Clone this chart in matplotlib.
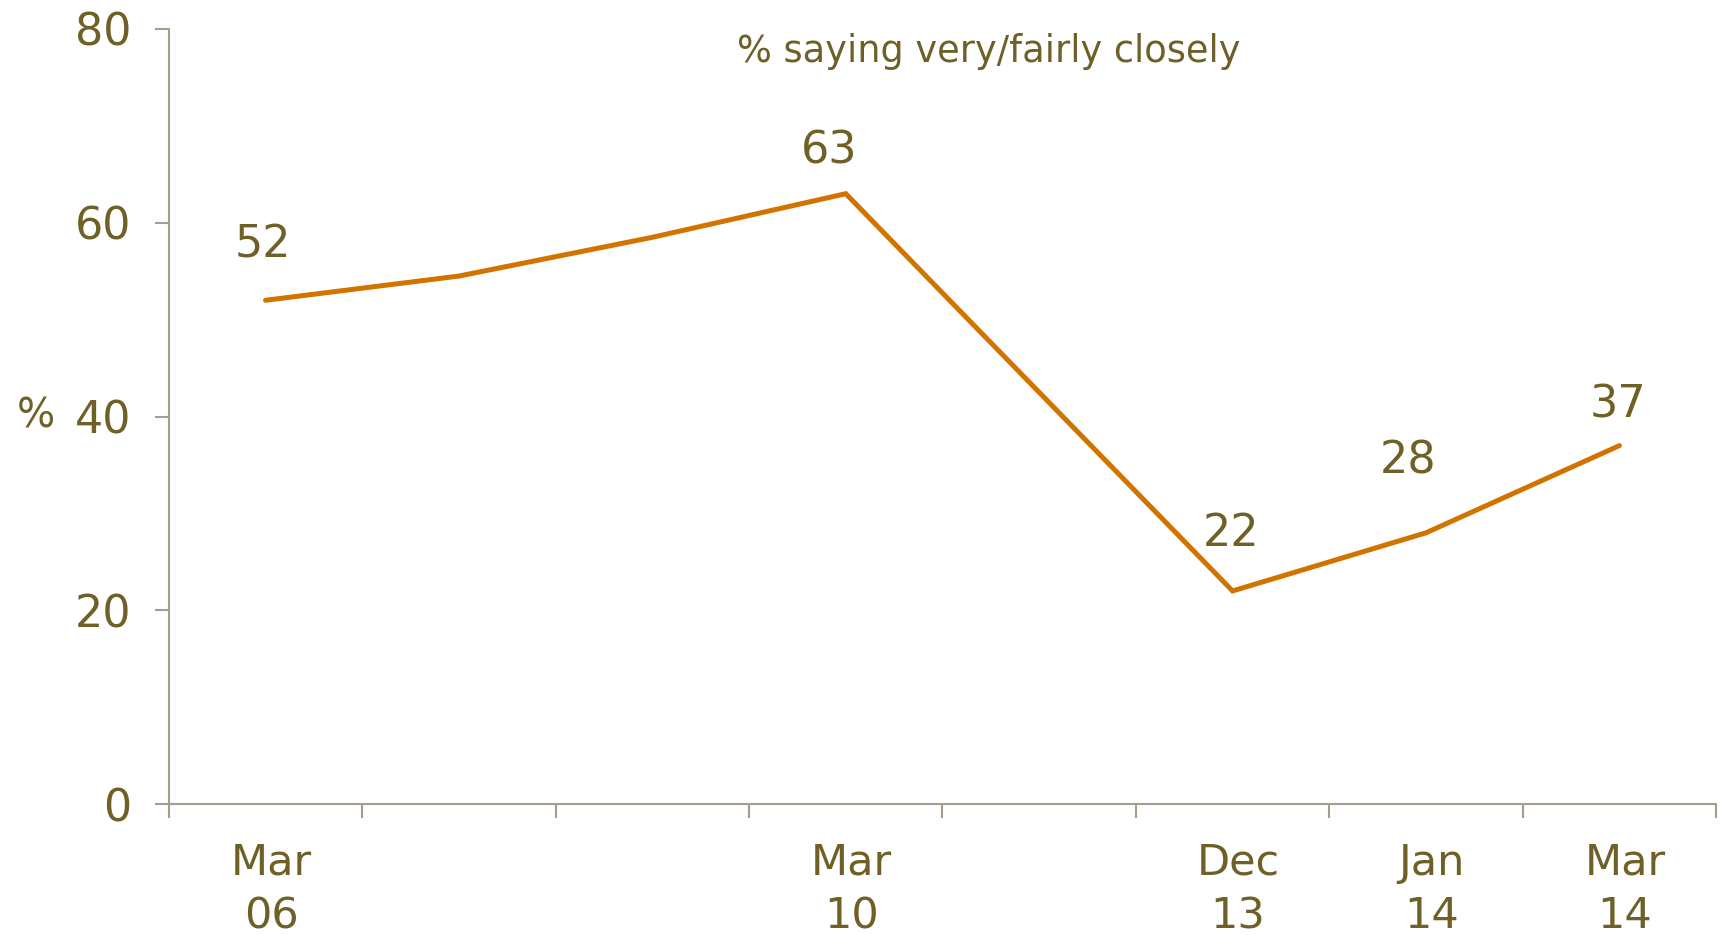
import numpy as np
import matplotlib
matplotlib.use("Agg")
import matplotlib.pyplot as plt
import matplotlib.transforms as mtransforms

# survey waves (slot 4 has no reading, line runs straight across it)
slots = [0, 1, 2, 3, 5, 6, 7]
values = [52, 54.5, 58.5, 63, 22, 28, 37]
shown = ["52", None, None, "63", "22", "28", "37"]
tick_slots = [0, 3, 5, 6, 7]
tick_text = ["Mar\n06", "Mar\n10", "Dec\n13", "Jan\n14", "Mar\n14"]
yticks = [0, 20, 40, 60, 80]

txt = "#6E6026"
axc = "#A59E8C"
linec = "#D27300"
plt.rcParams['font.family'] = ['DejaVu Sans']

fig = plt.figure(figsize=(17.23, 9.35), dpi=100)
ax = fig.add_axes([0.098, 0.140, 0.898, 0.829])

ax.plot(slots, values, color=linec, lw=3.6, solid_capstyle='round', solid_joinstyle='miter')

# label offsets in points (dx, dy)
offs = [(-2, 40), None, None, (-12, 31), (-1, 41), (-13, 52), (-1, 29)]
for x, y, s, o in zip(slots, values, shown, offs):
    if s is None:
        continue
    ax.annotate(s, (x, y), xytext=o, textcoords='offset points',
                ha='center', va='center', fontsize=32, color=txt)

ax.set_xlim(-0.5, 7.5)
ax.set_ylim(0, 80)
ax.set_yticks(yticks)
ax.set_xticks(tick_slots)
ax.set_xticklabels(tick_text, linespacing=1.35)
ax.set_xticks(np.arange(-0.5, 8, 1), minor=True)

for s in ['top', 'right']:
    ax.spines[s].set_visible(False)
for s in ['left', 'bottom']:
    ax.spines[s].set_color(axc)
    ax.spines[s].set_linewidth(1.5)

ax.tick_params(axis='y', length=10, width=1.5, color=axc, labelsize=32, labelcolor=txt, pad=17)
ax.tick_params(axis='x', which='major', length=0, labelsize=31, labelcolor=txt, pad=27)
ax.tick_params(axis='x', which='minor', length=10, width=1.5, color=axc)
shift = mtransforms.ScaledTranslation(4/72, 0, fig.dpi_scale_trans)
for lab in ax.get_xticklabels():
    lab.set_ha('center')
    lab.set_transform(lab.get_transform() + shift)

ax.text(-0.086, 0.5, "%", transform=ax.transAxes, fontsize=29, color=txt, ha='center', va='center')
fig.text(0.574, 0.945, "% saying very/fairly closely", fontsize=26.5, color=txt, ha='center', va='center')

fig.savefig("out.png", dpi=100)
